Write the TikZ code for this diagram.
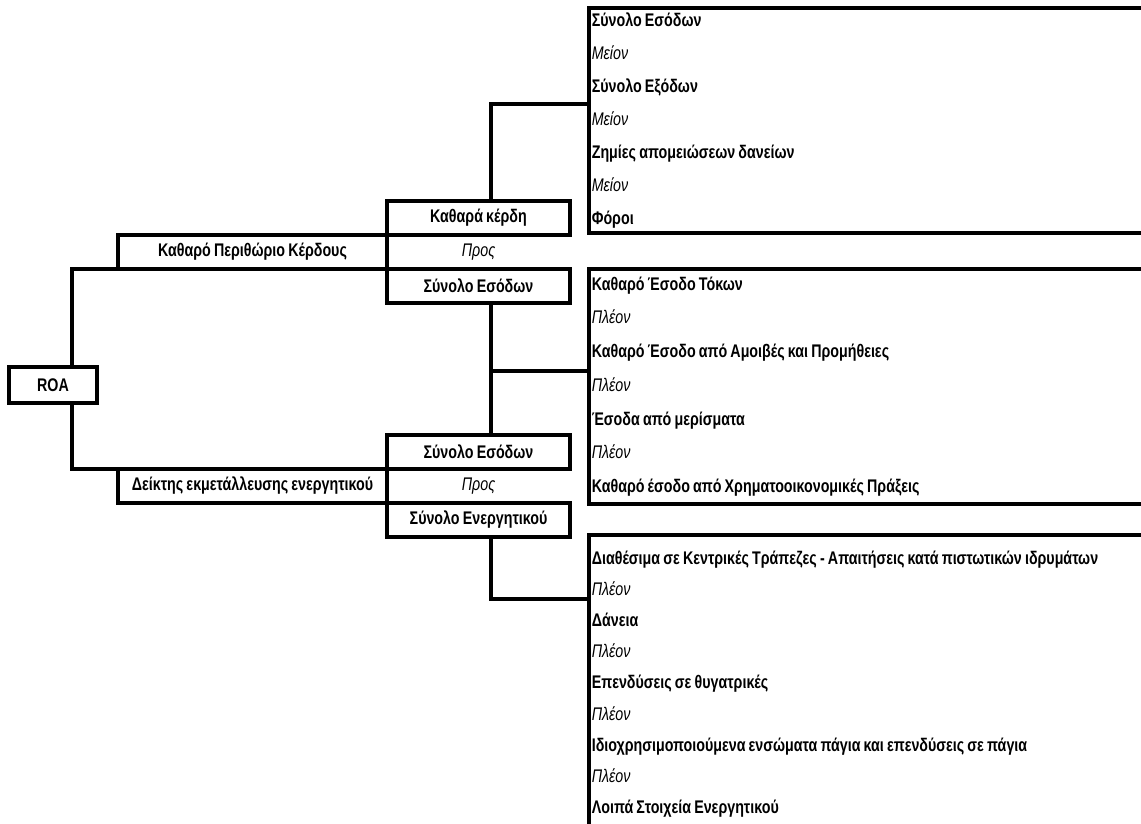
\documentclass[tikz,border=0pt]{standalone}
\usepackage{fontspec}
\setmainfont{Liberation Sans}[FakeStretch=0.78, WordSpace=0.8]
\usetikzlibrary{positioning}

\tikzset{
  cell/.style={draw, minimum width=4.575cm, minimum height=0.85cm, inner sep=0pt, outer sep=0pt,
    font=\bfseries\fontsize{13pt}{14pt}\selectfont},
  between/.style={minimum width=4.575cm, minimum height=0.85cm, inner sep=0pt, outer sep=0pt,
    font=\itshape\fontsize{13pt}{14pt}\selectfont},
  ratio/.style={cell, minimum width=6.725cm},
  items/.style={draw, anchor=north west, align=flush left, text width=14.6cm, inner xsep=2pt, inner ysep=0pt, outer sep=0pt,
    font=\bfseries\fontsize{13pt}{23.5pt}\selectfont}
}
\newcommand{\op}[1]{{\normalfont\itshape #1}}

\begin{document}
\begin{tikzpicture}[x=0.025cm, y=-0.025cm, line width=2.8pt]
\useasboundingbox (0,0) rectangle (1141,823);
\clip (0,0) rectangle (1141,823);

\node[cell, minimum width=2.2cm, minimum height=0.9cm] (roa) at (53,385) {ROA};
\node[ratio] (margin) at (252.5,252) {Καθαρό Περιθώριο Κέρδους};
\node[ratio] (usage) at (252.5,486) {Δείκτης εκμετάλλευσης ενεργητικού};

\node[cell] (profit) at (478.5,218) {Καθαρά κέρδη};
\node[between] (per1) at (478.5,252) {Προς};
\node[cell] (income1) at (478.5,286) {Σύνολο Εσόδων};
\node[cell] (income2) at (478.5,452) {Σύνολο Εσόδων};
\node[between] (per2) at (478.5,486) {Προς};
\node[cell] (assets) at (478.5,520) {Σύνολο Ενεργητικού};

\node[items, minimum height=5.625cm] (costs) at (589,8) {Σύνολο Εσόδων\\ \op{Μείον}\\ Σύνολο Εξόδων\\ \op{Μείον}\\
  Ζημίες απομειώσεων δανείων\\ \op{Μείον}\\ Φόροι};
\node[items, minimum height=5.875cm, font=\bfseries\fontsize{13pt}{24pt}\selectfont] (revenue) at (589,269) {Καθαρό Έσοδο Τόκων\\ \op{Πλέον}\\
  Καθαρό Έσοδο από Αμοιβές και Προμήθειες\\ \op{Πλέον}\\ Έσοδα από μερίσματα\\ \op{Πλέον}\\
  Καθαρό έσοδο από Χρηματοοικονομικές Πράξεις};
\node[items, minimum height=7.45cm, font=\bfseries\fontsize{13pt}{22.2pt}\selectfont] (assetlist) at (589,535) {Διαθέσιμα σε Κεντρικές Τράπεζες - Απαιτήσεις κατά πιστωτικών ιδρυμάτων\\
  \op{Πλέον}\\ Δάνεια\\ \op{Πλέον}\\ Επενδύσεις σε θυγατρικές\\ \op{Πλέον}\\
  Ιδιοχρησιμοποιούμενα ενσώματα πάγια και επενδύσεις σε πάγια\\ \op{Πλέον}\\ Λοιπά Στοιχεία Ενεργητικού};

\coordinate (left) at (72,0);
\coordinate (j1) at (491,104);
\coordinate (j2) at (491,371);
\coordinate (j3) at (491,599);

\draw (roa.north -| left) |- (margin.south west);
\draw (roa.south -| left) |- (usage.north west);
\draw (profit.north -| j1) |- (costs.west |- j1);
\draw (income1.south -| j2) -- (income2.north -| j2);
\draw (j2) -- (revenue.west |- j2);
\draw (assets.south -| j3) |- (assetlist.west |- j3);
\end{tikzpicture}
\end{document}
